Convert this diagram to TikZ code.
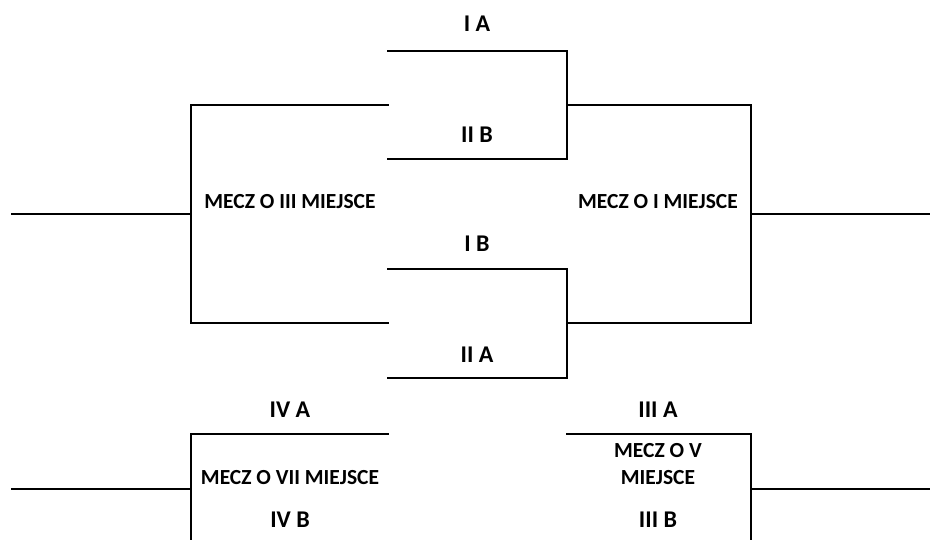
\documentclass[tikz,border=0pt]{standalone}
\usepackage{fontspec}
\setmainfont{Carlito}
\begin{document}
\begin{tikzpicture}[x=1pt,y=-1pt,
  line/.style={line width=2pt,line cap=rect},
  lbl/.style={font=\bfseries\fontsize{24}{28}\selectfont,anchor=base,inner sep=0pt},
  match/.style={font=\bfseries\fontsize{21.5}{27}\selectfont,anchor=base,inner sep=0pt,align=center}]
\useasboundingbox (0,0) rectangle (935,540);
% coordinates
\coordinate (ia1) at (388,51);  \coordinate (ia2) at (567,51);
\coordinate (iib1) at (388,159); \coordinate (iib2) at (567,159);
\coordinate (ib1) at (388,269); \coordinate (ib2) at (567,269);
\coordinate (iia1) at (388,378); \coordinate (iia2) at (567,378);
\coordinate (l3t) at (388,105); \coordinate (l3b) at (388,323);
\coordinate (b3t) at (191,105); \coordinate (b3b) at (191,323);
\coordinate (b3m) at (191,214); \coordinate (o3) at (12,214);
\coordinate (s1t) at (567,105); \coordinate (s1b) at (567,323);
\coordinate (b1t) at (751,105); \coordinate (b1b) at (751,323);
\coordinate (b1m) at (751,214); \coordinate (o1) at (929,214);
\coordinate (iva) at (388,434); \coordinate (b7t) at (191,434);
\coordinate (b7b) at (191,541); \coordinate (b7m) at (191,489); \coordinate (o7) at (12,489);
\coordinate (iiia) at (567,434); \coordinate (b5t) at (751,434);
\coordinate (b5b) at (751,541); \coordinate (b5m) at (751,489); \coordinate (o5) at (929,489);
% semifinal brackets
\draw[line] (ia1) -- (ia2) -- (iib2) -- (iib1);
\draw[line] (ib1) -- (ib2) -- (iia2) -- (iia1);
% third place
\draw[line] (l3t) -- (b3t) -- (b3b) -- (l3b);
\draw[line] (b3m) -- (o3);
% final
\draw[line] (s1t) -- (b1t) -- (b1b) -- (s1b);
\draw[line] (b1m) -- (o1);
% seventh
\draw[line] (iva) -- (b7t) -- (b7b);
\draw[line] (b7m) -- (o7);
% fifth
\draw[line] (iiia) -- (b5t) -- (b5b);
\draw[line] (b5m) -- (o5);
% labels
\node[lbl] (tIA) at (477,32) {I A};
\node[lbl] (tIIB) at (477,143) {II B};
\node[lbl] (tIB) at (477,252) {I B};
\node[lbl] (tIIA) at (477,362) {II A};
\node[lbl] (tIVA) at (290,417) {IV A};
\node[lbl] (tIVB) at (290,527) {IV B};
\node[lbl] (tIIIA) at (658,417) {III A};
\node[lbl] (tIIIB) at (658,527) {III B};
\node[match] (m3) at (290,209) {MECZ O III MIEJSCE};
\node[match] (m1) at (658,209) {MECZ O I MIEJSCE};
\node[match] (m7) at (290,484) {MECZ O VII MIEJSCE};
\node[match] (m5) at (658,484) {MECZ O V\\MIEJSCE};
\end{tikzpicture}
\end{document}
